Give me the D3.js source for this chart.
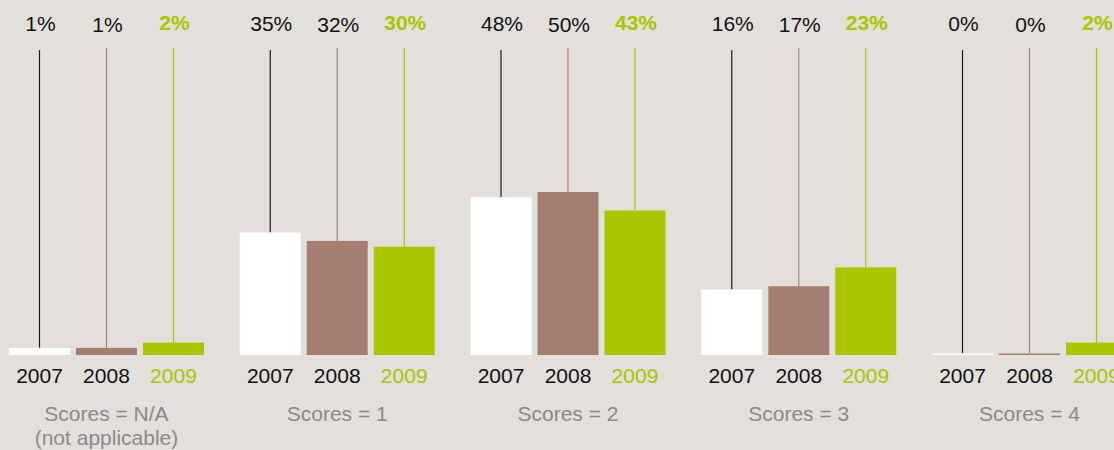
<!DOCTYPE html>
<html>
  <head>
  <title>Scores by year</title>
  </head>
  <body>
  <style>
    body, html {
      margin: 0;
      padding: 0;
      background: #e3dfdb;
    }
    text {
      font-family: "Liberation Sans", Arial, Helvetica, sans-serif;
    }
  </style>

  <svg id="svg" width="1114" height="450"></svg>

  <script src="https://cdn.jsdelivr.net/npm/d3@7"></script>
  <script>
    // data
    const groups = ['Scores = N/A|(not applicable)', 'Scores = 1', 'Scores = 2', 'Scores = 3', 'Scores = 4']
    const years = ['2007', '2008', '2009']
    const values2007 = [1, 35, 48, 16, 0]
    const values2008 = [1, 32, 50, 17, 0]
    const values2009 = [2, 30, 43, 23, 2]

    const width = 1114
    const height = 450
    const baseline = 355

    const series = {
      '2007': values2007,
      '2008': values2008,
      '2009': values2009
    }
    const barColor = { '2007': '#ffffff', '2008': '#a67e71', '2009': '#a9c600' }
    const lineColor = { '2007': '#1c1c1c', '2008': '#a98274', '2009': '#a9c600' }
    const textColor = { '2007': '#111111', '2008': '#111111', '2009': '#a9c600' }
    const lineTop = { '2007': 50, '2008': 48, '2009': 48 }
    const pctY = { '2007': 31, '2008': 32, '2009': 30 }

    const xGroup = d3.scaleBand()
      .domain(groups)
      .range([9, 1127])
      .paddingInner(0.155)

    const xYear = d3.scaleBand()
      .domain(years)
      .range([0, xGroup.bandwidth()])
      .paddingInner(0.0896)

    // bar heights in the original are not strictly linear
    const hScale = d3.scalePow()
      .exponent(0.8)
      .domain([0, 50])
      .range([0, 163])

    const svg = d3.select('#svg')

    svg.append('rect')
      .attr('width', width)
      .attr('height', height)
      .attr('fill', '#e3dfdb')

    const rows = []
    groups.forEach((g, i) => {
      years.forEach(y => {
        rows.push({ group: g, year: y, value: series[y][i] })
      })
    })

    const cell = svg.selectAll('g.cell')
      .data(rows)
      .join('g')
      .attr('class', 'cell')
      .attr('transform', d => `translate(${xGroup(d.group) + xYear(d.year)}, 0)`)

    const bw = xYear.bandwidth()

    cell.append('line')
      .attr('x1', bw / 2)
      .attr('x2', bw / 2)
      .attr('y1', d => lineTop[d.year])
      .attr('y2', d => baseline - Math.max(hScale(d.value), 2))
      .attr('stroke', d => lineColor[d.year])
      .attr('stroke-width', 1.2)

    cell.append('rect')
      .attr('x', 0)
      .attr('width', bw)
      .attr('y', d => baseline - Math.max(hScale(d.value), 1.5))
      .attr('height', d => Math.max(hScale(d.value), 1.5))
      .attr('fill', d => barColor[d.year])

    cell.append('text')
      .attr('x', bw / 2 + 1)
      .attr('y', d => pctY[d.year])
      .attr('text-anchor', 'middle')
      .style('font-size', '21px')
      .style('font-weight', d => d.year === '2009' ? 'bold' : 'normal')
      .attr('fill', d => textColor[d.year])
      .text(d => d.value + '%')

    cell.append('text')
      .attr('x', bw / 2)
      .attr('y', 383)
      .attr('text-anchor', 'middle')
      .style('font-size', '21px')
      .attr('fill', d => textColor[d.year])
      .text(d => d.year)

    const glabel = svg.selectAll('text.glabel')
      .data(groups)
      .join('text')
      .attr('class', 'glabel')
      .attr('x', d => xGroup(d) + xGroup.bandwidth() / 2)
      .attr('y', 421)
      .attr('text-anchor', 'middle')
      .style('font-size', '21px')
      .attr('fill', '#8c8a88')

    glabel.selectAll('tspan')
      .data(d => d.split('|').map(t => ({ t, x: xGroup(d) + xGroup.bandwidth() / 2 })))
      .join('tspan')
      .attr('x', d => d.x)
      .attr('dy', (d, i) => i === 0 ? 0 : 24)
      .text(d => d.t)
  </script>
  </body>
</html>
